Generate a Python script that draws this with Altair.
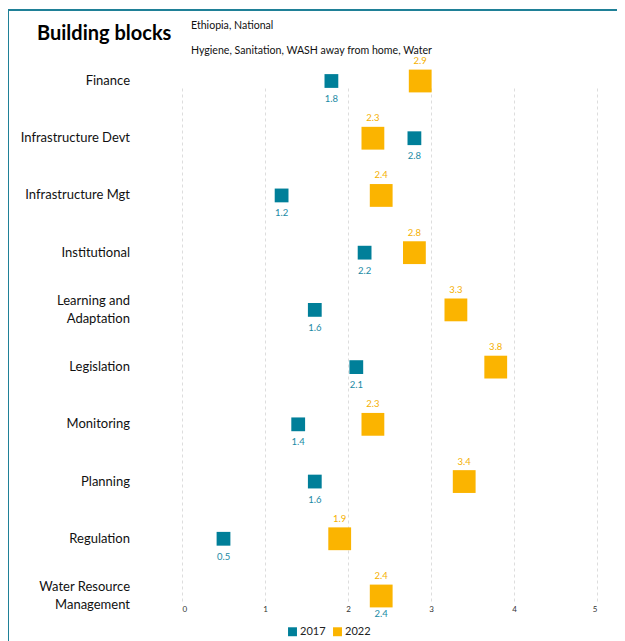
import altair as alt
import pandas as pd

categories = ["Finance", "Infrastructure Devt", "Infrastructure Mgt", "Institutional",
              "Learning and\nAdaptation", "Legislation", "Monitoring", "Planning",
              "Regulation", "Water Resource\nManagement"]
values_2017 = [1.8, 2.8, 1.2, 2.2, 1.6, 2.1, 1.4, 1.6, 0.5, 2.4]
values_2022 = [2.87, 2.3, 2.4, 2.8, 3.3, 3.78, 2.3, 3.4, 1.9, 2.4]
years = ["2017", "2022"]
colors = ["#007F99", "#FBB400"]
x_ticks = [0, 1, 2, 3, 4, 5]
title_text = "Building blocks"
subtitle_1 = "Ethiopia, National"
subtitle_2 = "Hygiene, Sanitation, WASH away from home, Water"

rows = []
for c, v in zip(categories, values_2017):
    rows.append({"cat": c, "year": "2017", "value": v})
for c, v in zip(categories, values_2022):
    rows.append({"cat": c, "year": "2022", "value": v})
df = pd.DataFrame(rows)
cat_df = pd.DataFrame({"cat": categories})

FONT = "Lato"
W, H = 415, 518

yscale = alt.Scale(type="point", domain=categories, range=[-1, 514], padding=0)
xscale = alt.Scale(domain=[0, 5], nice=False)
cscale = alt.Scale(domain=years, range=colors)

base = alt.Chart(df)

legend = alt.Legend(title=None, orient="none", direction="horizontal",
                    legendX=105, legendY=544, symbolType="square",
                    symbolSize=80, labelFontSize=11, labelFont=FONT,
                    labelColor="#222222", symbolOpacity=1, symbolStrokeWidth=0,
                    columnPadding=6, labelOffset=2, padding=0)

pts17 = base.transform_filter(alt.datum.year == "2017").mark_point(
    shape="square", filled=True, opacity=1, size=190).encode(
    x=alt.X("value:Q", scale=xscale,
            axis=alt.Axis(values=x_ticks, format="d", title=None, domain=False, ticks=False,
                          labelPadding=5, labelFontSize=8, labelColor="#333333",
                          labelFont=FONT, grid=True, gridDash=[3, 3],
                          gridColor="#DDDDDD", gridWidth=1)),
    y=alt.Y("cat:N", scale=yscale, axis=None),
    color=alt.Color("year:N", scale=cscale, legend=legend),
)

pts22 = base.transform_filter(alt.datum.year == "2022").mark_point(
    shape="square", filled=True, opacity=1, size=520).encode(
    x=alt.X("value:Q", scale=xscale),
    y=alt.Y("cat:N", scale=yscale, axis=None),
    color=alt.Color("year:N", scale=cscale, legend=legend),
)

lab17 = base.transform_filter(alt.datum.year == "2017").mark_text(
    dy=18, fontSize=9.5, font=FONT, color="#1A8AA5").encode(
    x=alt.X("value:Q", scale=xscale), y=alt.Y("cat:N", scale=yscale),
    text=alt.Text("value:Q", format=".1f"))

lab22 = base.transform_filter(alt.datum.year == "2022").mark_text(
    dy=-20, fontSize=9.5, font=FONT, color="#F5B000").encode(
    x=alt.X("value:Q", scale=xscale), y=alt.Y("cat:N", scale=yscale),
    text=alt.Text("value:Q", format=".1f"))

single = alt.Chart(cat_df).transform_filter("indexof(datum.cat, '\\n') < 0").mark_text(
    align="right", baseline="middle", fontSize=13, font=FONT, color="#111111").encode(
    x=alt.value(-52), y=alt.Y("cat:N", scale=yscale), text="cat:N")

multi = alt.Chart(cat_df).transform_filter("indexof(datum.cat, '\\n') >= 0").mark_text(
    align="right", baseline="middle", fontSize=13, font=FONT, color="#111111",
    lineBreak="\n", lineHeight=18, dy=-9).encode(
    x=alt.value(-52), y=alt.Y("cat:N", scale=yscale), text="cat:N")

hdr = pd.DataFrame({"t": [title_text]})
title = alt.Chart(hdr).mark_text(align="left", baseline="middle", fontSize=20,
                                 fontWeight="bold", font=FONT, color="#000000").encode(
    x=alt.value(-145), y=alt.value(-48), text="t:N")
sub1 = alt.Chart(pd.DataFrame({"t": [subtitle_1]})).mark_text(
    align="left", baseline="middle", fontSize=10.6, font=FONT, color="#111111").encode(
    x=alt.value(9), y=alt.value(-56), text="t:N")
sub2 = alt.Chart(pd.DataFrame({"t": [subtitle_2]})).mark_text(
    align="left", baseline="middle", fontSize=10.6, font=FONT, color="#111111").encode(
    x=alt.value(9), y=alt.value(-31), text="t:N")

border = alt.Chart(hdr).mark_rect(fill=None, filled=False, stroke="#1F8097",
                                  strokeWidth=2).encode(
    x=alt.value(-174), x2=alt.value(700), y=alt.value(-72), y2=alt.value(700))

chart = alt.layer(border, pts17, pts22, lab17, lab22, single, multi, title, sub1, sub2).properties(
    width=W, height=H,
    autosize=alt.AutoSizeParams(type="none"),
    padding={"left": 174, "top": 74, "right": 20, "bottom": 41},
).configure(background="white").configure_view(stroke=None, strokeWidth=0)

chart.save("out.html", embed_options={"renderer": "svg", "actions": False})
